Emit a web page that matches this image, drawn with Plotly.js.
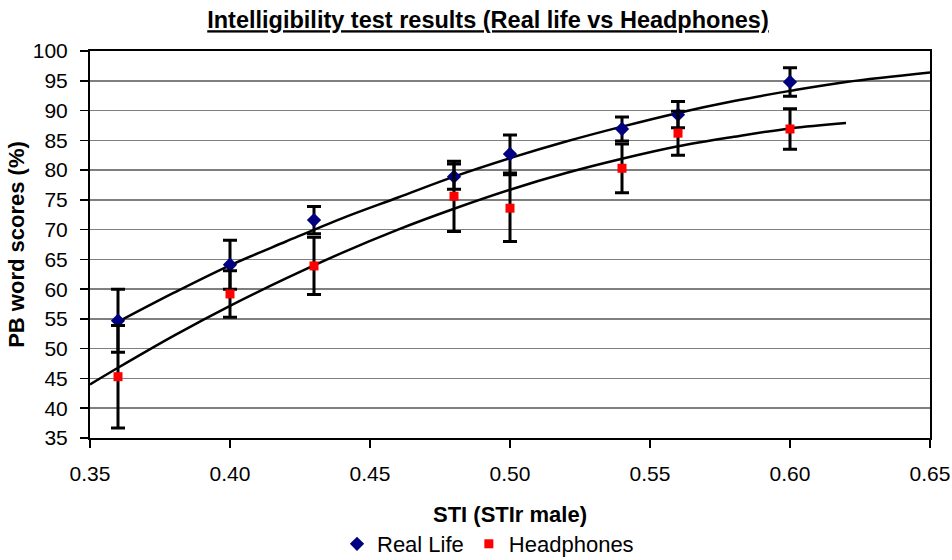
<!DOCTYPE html>
<html>
<head>
<meta charset="utf-8">
<script src="https://cdn.plot.ly/plotly-3.0.1.min.js"></script>
<style>html,body{margin:0;padding:0;background:#fff;}#chart{width:952px;height:560px;}</style>
</head>
<body>
<div id="chart"></div>
<script>
// Measured points
const sti = [0.36, 0.40, 0.43, 0.48, 0.50, 0.54, 0.56, 0.60];
const realLife = [54.7, 64.1, 71.6, 78.9, 82.7, 86.9, 89.3, 94.8];
const realLifeErr = [5.3, 4.1, 2.3, 2.1, 3.2, 2.0, 2.2, 2.4];
const headphones = [45.3, 59.2, 63.9, 75.6, 73.6, 80.3, 86.2, 86.9];
const headphonesErr = [8.6, 3.9, 4.8, 5.9, 5.6, 4.1, 3.7, 3.4];

// Trend curves
const realTrendX = [0.36, 0.38, 0.40, 0.42, 0.44, 0.46, 0.48, 0.50, 0.52, 0.54, 0.56, 0.58, 0.60, 0.62, 0.65];
const realTrendY = [54.5, 59.4, 64.0, 68.0, 71.9, 75.4, 78.9, 82.0, 84.8, 87.3, 89.6, 91.6, 93.3, 94.8, 96.4];
const phonesTrendX = [0.35, 0.36, 0.38, 0.40, 0.42, 0.44, 0.46, 0.48, 0.50, 0.52, 0.54, 0.56, 0.58, 0.60, 0.62];
const phonesTrendY = [44.0, 46.8, 52.2, 57.2, 61.8, 66.1, 70.0, 73.5, 76.7, 79.5, 81.9, 84.0, 85.6, 87.0, 87.9];

const yTicks = [35, 40, 45, 50, 55, 60, 65, 70, 75, 80, 85, 90, 95, 100];
const xTicks = [0.35, 0.40, 0.45, 0.50, 0.55, 0.60, 0.65];
const xTickText = ['0.35', '0.40', '0.45', '0.50', '0.55', '0.60', '0.65'];

const FONT = 'Liberation Sans, Arial, sans-serif';

const traces = [
  {x: realTrendX, y: realTrendY, mode: 'lines', line: {color: '#000', width: 2.5, shape: 'spline'}, showlegend: false, hoverinfo: 'skip'},
  {x: phonesTrendX, y: phonesTrendY, mode: 'lines', line: {color: '#000', width: 2.5, shape: 'spline'}, showlegend: false, hoverinfo: 'skip'},
  {x: sti, y: realLife, name: 'Real Life', mode: 'markers', type: 'scatter',
   marker: {symbol: 'diamond', size: 11, color: '#000080'},
   error_y: {type: 'data', array: realLifeErr, visible: true, color: '#000', thickness: 3, width: 7}},
  {x: sti, y: headphones, name: 'Headphones', mode: 'markers', type: 'scatter',
   marker: {symbol: 'square', size: 9, color: '#ff0000'},
   error_y: {type: 'data', array: headphonesErr, visible: true, color: '#000', thickness: 3, width: 7}}
];

const layout = {
  width: 952, height: 560,
  margin: {l: 90, r: 22, t: 51, b: 122, autoexpand: false},
  paper_bgcolor: '#fff', plot_bgcolor: '#fff',
  font: {family: FONT, color: '#000', size: 21},
  title: {text: '<u>Intelligibility test results (Real life vs Headphones)</u>',
          font: {family: FONT, size: 23.5, color: '#000', weight: 'bold'},
          x: 488/952, xanchor: 'center', y: 1 - 20/560, yanchor: 'middle'},
  xaxis: {range: [0.35, 0.65], tickvals: xTicks, ticktext: xTickText,
          showgrid: false, zeroline: false, automargin: false,
          showline: true, linecolor: '#000', linewidth: 2, mirror: true,
          ticks: 'outside', ticklen: 8, tickwidth: 1.5, tickcolor: '#000',
          ticklabelstandoff: 8,
          tickfont: {family: FONT, size: 21, color: '#000'},
          title: {text: 'STI (STIr male)', font: {family: FONT, size: 22, color: '#000', weight: 'bold'}, standoff: 22}},
  yaxis: {range: [35, 100], tickvals: yTicks, automargin: false,
          showgrid: true, gridcolor: '#7f7f7f', gridwidth: 1.5, zeroline: false,
          showline: true, linecolor: '#000', linewidth: 2, mirror: true,
          ticks: 'outside', ticklen: 8, tickwidth: 1.5, tickcolor: '#000',
          ticklabelstandoff: 8,
          tickfont: {family: FONT, size: 21, color: '#000'},
          title: {text: 'PB word scores (%)', font: {family: FONT, size: 22, color: '#000', weight: 'bold'}, standoff: 2}},
  showlegend: true,
  legend: {orientation: 'h', x: (488-90)/840, xanchor: 'center', y: -(544-438)/387, yanchor: 'middle',
           font: {family: FONT, size: 22, color: '#000'}, bgcolor: 'rgba(0,0,0,0)', itemwidth: 30,
           traceorder: 'normal'}
};

Plotly.newPlot('chart', traces, layout, {displayModeBar: false, staticPlot: true});
</script>
</body>
</html>
